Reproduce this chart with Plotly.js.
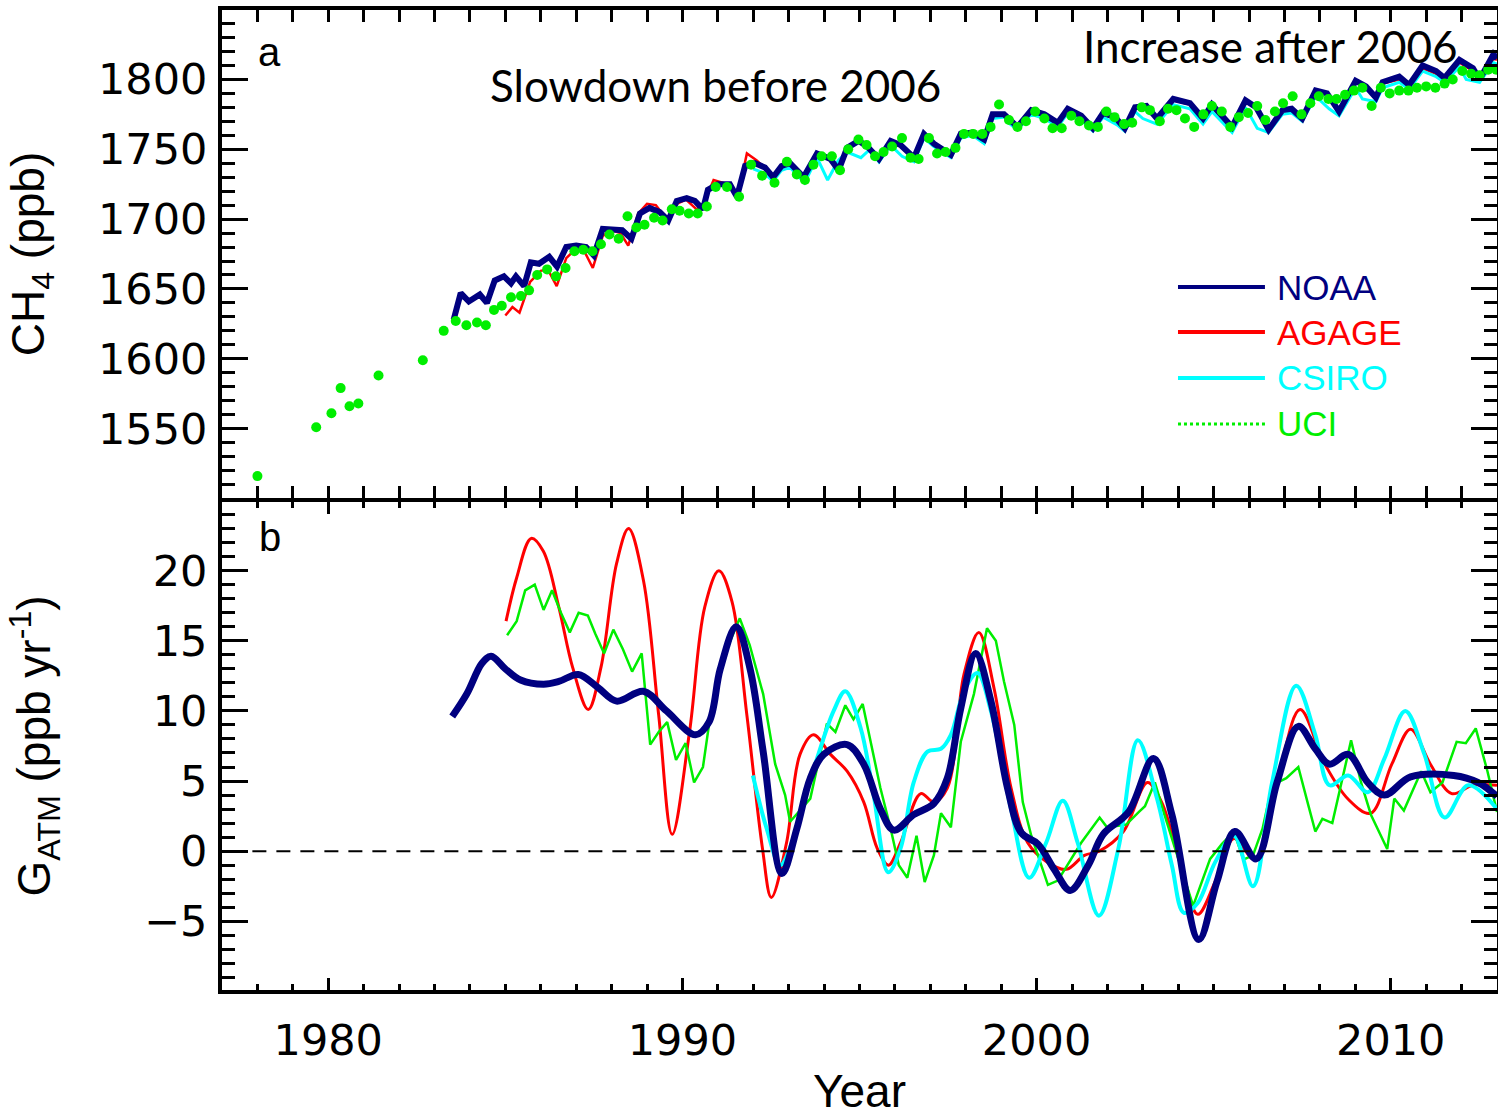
<!DOCTYPE html>
<html>
<head>
<meta charset="utf-8">
<script src="https://cdn.plot.ly/plotly-3.0.1.min.js"></script>
<style>html,body{margin:0;padding:0;background:#fff;}#chart{width:1498px;height:1117px;}</style>
</head>
<body>
<div id="chart"></div>
<script>
// ---------- Panel a: CH4 mole fraction (ppb) ----------
var noaaTopYear = [1983.54,1983.74,1983.97,1984.28,1984.48,1984.7,1984.96,1985.16,1985.3,1985.53,1985.72,1985.95,1986.24,1986.46,1986.72,1987.0,1987.28,1987.5,1987.75,1988.02,1988.3,1988.56,1988.8,1989.07,1989.36,1989.6,1989.84,1990.12,1990.35,1990.58,1990.72,1991.0,1991.34,1991.54,1991.77,1992.05,1992.33,1992.56,1992.8,1993.04,1993.42,1993.8,1994.18,1994.41,1994.65,1994.98,1995.22,1995.55,1995.88,1996.16,1996.54,1996.82,1997.1,1997.58,1997.86,1998.19,1998.52,1998.76,1999.08,1999.46,1999.85,2000.22,2000.6,2000.88,2001.26,2001.59,2001.88,2002.21,2002.49,2002.78,2003.1,2003.4,2003.86,2004.33,2004.7,2004.95,2005.52,2005.9,2006.2,2006.55,2006.94,2007.2,2007.5,2007.88,2008.2,2008.54,2009.01,2009.3,2009.58,2009.77,2010.24,2010.52,2010.9,2011.28,2011.52,2011.94,2012.32,2012.51,2012.9,2013.0];
var noaaTopCH4 = [1628,1647,1641,1646,1640,1656,1659,1654,1659,1652,1669,1668,1673,1666,1680,1681,1680,1674,1693,1693,1692,1686,1704,1708,1705,1699,1713,1715,1713,1707,1721,1725,1725,1716,1738,1740,1737,1730,1738,1740,1730,1747,1743,1735,1751,1756,1752,1743,1756,1753,1744,1761,1754,1746,1761,1762,1757,1775,1775,1766,1778,1775,1769,1779,1774,1765,1776,1773,1765,1780,1781,1772,1786,1783,1772,1782,1766,1785,1780,1764,1778,1779,1772,1792,1790,1777,1799,1795,1787,1798,1802,1796,1810,1806,1801,1814,1808,1800,1818,1815];

var agageTopYear = [1985.0,1985.2,1985.4,1985.7,1986.0,1986.2,1986.45,1986.72,1987.0,1987.25,1987.47,1987.75,1988.0,1988.25,1988.47,1988.75,1989.0,1989.25,1989.55,1989.84,1990.1,1990.4,1990.62,1990.88,1991.15,1991.4,1991.57,1991.82,1992.1,1992.35,1992.58,1992.82,1993.05,1993.42,1993.8,1994.18,1994.42,1994.66,1994.98,1995.22,1995.55,1995.88,1996.16,1996.54,1996.82,1997.1,1997.58,1997.86,1998.19,1998.52,1998.76,1999.08,1999.46,1999.85,2000.22,2000.6,2000.88,2001.26,2001.59,2001.88,2002.21,2002.49,2002.78,2003.1,2003.4,2003.86,2004.33,2004.7,2004.95,2005.52,2005.9,2006.2,2006.55,2006.94,2007.2,2007.5,2007.88,2008.2,2008.54,2009.01,2009.3,2009.58,2009.77,2010.24,2010.52,2010.9,2011.28,2011.52,2011.94,2012.32,2012.51,2012.9,2013.0];
var agageTopCH4 = [1631,1637,1633,1655,1663,1664,1652,1672,1679,1676,1665,1688,1692,1690,1681,1704,1711,1710,1700,1711,1714,1707,1712,1728,1726,1721,1717,1747,1742,1736,1729,1738,1739,1729,1746,1743,1734,1750,1755,1751,1742,1755,1752,1743,1760,1754,1745,1760,1762,1756,1774,1775,1765,1777,1774,1768,1778,1773,1764,1775,1772,1764,1779,1780,1771,1785,1782,1771,1780,1765,1784,1779,1763,1777,1778,1771,1791,1789,1776,1798,1794,1786,1797,1800,1795,1808,1804,1800,1812,1806,1799,1815,1814];

var csiroTopYear = [1992.0,1992.3,1992.56,1992.8,1993.04,1993.45,1993.8,1994.1,1994.4,1994.65,1995.04,1995.3,1995.55,1995.88,1996.2,1996.54,1996.82,1997.1,1997.58,1997.86,1998.19,1998.52,1998.76,1999.1,1999.2,1999.46,1999.85,2000.22,2000.6,2000.88,2001.26,2001.59,2001.88,2002.3,2002.49,2002.78,2003.0,2003.4,2003.86,2004.33,2004.7,2004.95,2005.52,2005.9,2006.23,2006.55,2006.94,2007.2,2007.5,2007.88,2008.26,2008.54,2009.01,2009.2,2009.58,2009.77,2010.24,2010.52,2010.9,2011.28,2011.52,2011.94,2012.13,2012.51,2012.9,2013.0];
var csiroTopCH4 = [1736,1733,1727,1735,1737,1726,1744,1728,1742,1748,1744,1750,1741,1753,1745,1741,1758,1752,1744,1758,1760,1754,1772,1773,1769,1764,1775,1772,1766,1776,1771,1763,1773,1767,1763,1777,1772,1768,1782,1779,1768,1777,1762,1780,1765,1762,1775,1776,1770,1788,1779,1774,1794,1786,1784,1794,1798,1793,1806,1802,1798,1809,1800,1798,1812,1811];

var uciTopYear = [1978.0,1979.66,1980.09,1980.35,1980.6,1980.85,1981.42,1982.67,1983.26,1983.6,1983.9,1984.2,1984.45,1984.68,1984.9,1985.16,1985.44,1985.67,1985.9,1986.18,1986.43,1986.7,1986.95,1987.2,1987.46,1987.7,1987.94,1988.2,1988.45,1988.7,1988.93,1989.2,1989.44,1989.7,1989.92,1990.18,1990.43,1990.69,1990.94,1991.26,1991.6,1991.94,1992.25,1992.6,1992.95,1993.23,1993.46,1993.7,1993.93,1994.22,1994.45,1994.68,1994.97,1995.2,1995.44,1995.68,1995.92,1996.2,1996.44,1996.67,1996.96,1997.19,1997.43,1997.71,1997.95,1998.21,1998.47,1998.7,1998.94,1999.22,1999.46,1999.7,1999.96,2000.22,2000.45,2000.71,2000.98,2001.21,2001.48,2001.73,2001.97,2002.2,2002.47,2002.7,2002.97,2003.2,2003.48,2003.71,2003.95,2004.19,2004.45,2004.71,2004.95,2005.23,2005.47,2005.71,2005.97,2006.23,2006.46,2006.73,2006.96,2007.23,2007.48,2007.73,2007.97,2008.24,2008.47,2008.71,2008.96,2009.2,2009.46,2009.72,2009.97,2010.24,2010.5,2010.74,2011.0,2011.26,2011.52,2011.75,2012.02,2012.27,2012.51,2012.75,2012.98];
var uciTopCH4 = [1516,1551,1561,1579,1566,1568,1588,1599,1620,1627,1624,1626,1624,1635,1638,1644,1645,1649,1660,1664,1659,1665,1677,1678,1677,1682,1689,1686,1702,1694,1696,1701,1699,1707,1706,1704,1704,1709,1723,1723,1716,1739,1731,1726,1741,1732,1728,1739,1745,1745,1735,1750,1757,1753,1745,1748,1752,1758,1744,1743,1758,1747,1748,1751,1761,1761,1761,1766,1782,1771,1766,1770,1777,1772,1765,1765,1774,1770,1767,1766,1777,1773,1768,1769,1780,1778,1770,1779,1778,1772,1766,1775,1781,1777,1766,1773,1776,1781,1771,1777,1783,1788,1775,1783,1788,1786,1786,1789,1792,1794,1781,1794,1790,1792,1792,1794,1795,1794,1797,1800,1806,1804,1803,1807,1807];

// ---------- Panel b: growth rate G_ATM (ppb/yr) ----------
var noaaGrYear = [1983.5,1983.91,1984.34,1984.6,1985.0,1985.43,1986.08,1986.51,1987.06,1987.6,1988.14,1988.9,1989.55,1990.37,1990.75,1991.07,1991.52,1991.91,1992.28,1992.81,1993.23,1993.61,1993.99,1994.65,1995.12,1995.59,1995.97,1996.53,1997.1,1997.48,1997.86,1998.28,1998.71,1999.18,1999.57,2000.04,2000.5,2000.95,2001.46,2001.88,2002.6,2003.3,2003.82,2004.58,2005.09,2005.6,2006.2,2006.79,2007.39,2007.87,2008.27,2008.8,2009.35,2009.82,2010.56,2011.78,2012.46,2013.0];
var noaaGr = [9.6,11.2,13.4,13.9,13.0,12.2,11.9,12.1,12.6,11.7,10.7,11.4,10.0,8.3,9.2,13.0,16.0,13.0,7.1,-1.6,1.6,5.2,6.9,7.6,6.2,3.0,1.5,2.6,3.4,5.2,10.2,14.1,10.7,4.5,1.3,0.5,-1.3,-2.8,-1.0,1.2,2.8,6.6,2.6,-6.3,-2.2,1.4,-0.55,4.9,8.9,7.3,6.2,6.9,4.9,4.0,5.3,5.4,4.9,3.9];

var agageGrYear = [1985.02,1985.32,1985.73,1986.07,1986.51,1986.9,1987.34,1987.7,1988.14,1988.48,1988.9,1989.33,1989.71,1990.2,1990.63,1991.03,1991.4,1991.82,1992.26,1992.51,1992.94,1993.32,1993.7,1994.18,1994.65,1995.12,1995.5,1995.82,1996.16,1996.73,1997.1,1997.48,1997.95,1998.37,1998.8,1999.28,1999.75,2000.31,2000.84,2001.35,2001.77,2002.45,2003.13,2003.53,2004.07,2004.55,2005.04,2005.57,2006.17,2006.79,2007.44,2008.14,2008.8,2009.43,2010.03,2010.56,2011.12,2011.72,2012.32,2013.0];
var agageGr = [16.4,19.5,22.3,21.4,17.4,13.1,10.1,13.1,20.5,23.0,19.3,9.7,1.2,8.5,17.4,20.0,17.8,9.7,0.2,-3.3,0.6,6.9,8.3,6.9,5.7,3.5,0.2,-1.0,0.6,4.1,3.5,4.5,12.6,15.6,11.6,4.5,0.6,-0.8,-1.3,-0.3,0.0,1.4,4.9,3.5,-1.0,-4.5,-2.2,0.9,-0.6,4.9,10.1,6.2,3.7,2.7,6.2,8.7,6.2,4.1,4.7,4.7];

var csiroGrYear = [1991.99,1992.38,1992.76,1993.09,1993.42,1993.8,1994.27,1994.6,1995.03,1995.4,1995.81,1996.16,1996.53,1996.92,1997.3,1997.58,1997.95,1998.33,1998.71,1999.28,1999.79,2000.27,2000.74,2001.16,2001.76,2002.31,2002.86,2003.4,2003.82,2004.16,2004.55,2005.04,2005.57,2006.11,2006.65,2007.33,2007.87,2008.27,2008.8,2009.35,2009.82,2010.41,2010.95,2011.52,2012.19,2013.0];
var csiroGr = [5.4,1.6,-1.0,0.6,3.5,6.6,10.0,11.4,8.8,4.0,-1.5,0.2,4.9,7.1,7.3,8.3,11.4,12.7,10.0,3.0,-1.9,0.6,3.6,0.6,-4.6,0.2,7.9,3.75,-1.0,-4.4,-3.7,-0.8,1.1,-2.5,4.9,11.8,8.3,4.7,5.4,4.2,6.6,10.0,6.9,2.4,4.7,3.0];

var uciGrYear = [1985.05,1985.32,1985.56,1985.83,1986.08,1986.32,1986.57,1986.82,1987.07,1987.33,1987.54,1987.79,1988.05,1988.32,1988.58,1988.85,1989.09,1989.33,1989.57,1989.82,1990.09,1990.33,1990.58,1990.75,1991.1,1991.62,1991.9,1992.28,1992.62,1992.9,1993.04,1993.61,1994.08,1994.32,1994.6,1994.83,1995.09,1995.31,1995.59,1995.88,1996.11,1996.35,1996.61,1996.84,1997.1,1997.3,1997.58,1997.86,1998.23,1998.6,1998.85,1999.08,1999.37,1999.61,1999.85,2000.32,2000.6,2001.26,2001.55,2001.78,2001.99,2002.53,2002.89,2003.06,2003.34,2003.61,2004.42,2004.9,2005.23,2005.57,2005.84,2006.11,2006.38,2006.65,2007.05,2007.39,2007.67,2007.87,2008.07,2008.35,2008.88,2009.16,2009.44,2009.9,2010.1,2010.37,2010.86,2011.12,2011.46,2011.86,2012.12,2012.4,2012.73,2013.0];
var uciGr = [15.4,16.4,18.6,19.0,17.2,18.6,17.0,15.6,17.0,16.8,15.5,14.1,15.8,14.4,12.8,14.1,7.6,8.5,9.2,6.5,7.7,4.9,6.0,9.0,13.5,16.6,14.7,11.2,6.2,4.0,2.1,3.75,9.1,8.5,10.4,9.4,10.5,7.8,4.5,1.6,-1.0,-1.9,1.1,-2.2,-0.3,2.7,1.7,7.8,11.2,15.9,15.0,12.1,9.0,3.5,1.1,-2.4,-2.1,0.6,1.6,2.4,1.7,1.9,2.8,3.2,4.9,2.6,-3.9,-0.55,0.5,1.4,-0.6,-0.3,1.6,4.7,5.2,6.0,3.3,1.4,2.3,2.0,7.9,4.9,2.6,0.15,3.75,2.9,5.7,4.2,4.9,7.8,7.7,8.75,5.7,2.8];

// ---------- Labels / legend ----------
var seriesNames = ['NOAA','AGAGE','CSIRO','UCI'];
var seriesColors = ['#000080','#ff0000','#00ffff','#00ee00'];
var panelNotes = ['Slowdown before 2006','Increase after 2006'];

var C = {noaa:seriesColors[0], agage:seriesColors[1], csiro:seriesColors[2], uci:seriesColors[3]};

var traces = [
  {x:agageTopYear, y:agageTopCH4, xaxis:'x', yaxis:'y', mode:'lines', line:{color:C.agage, width:2.5}, name:'AGAGE'},
  {x:csiroTopYear, y:csiroTopCH4, xaxis:'x', yaxis:'y', mode:'lines', line:{color:C.csiro, width:3}, name:'CSIRO'},
  {x:noaaTopYear, y:noaaTopCH4, xaxis:'x', yaxis:'y', mode:'lines', line:{color:C.noaa, width:6}, name:'NOAA'},
  {x:uciTopYear, y:uciTopCH4, xaxis:'x', yaxis:'y', mode:'markers', marker:{color:C.uci, size:10}, name:'UCI'},
  {x:agageGrYear, y:agageGr, xaxis:'x2', yaxis:'y2', mode:'lines', line:{color:C.agage, width:3, shape:'spline', smoothing:1}, name:'AGAGE'},
  {x:uciGrYear, y:uciGr, xaxis:'x2', yaxis:'y2', mode:'lines', line:{color:C.uci, width:2.5}, name:'UCI'},
  {x:csiroGrYear, y:csiroGr, xaxis:'x2', yaxis:'y2', mode:'lines', line:{color:C.csiro, width:4, shape:'spline', smoothing:1}, name:'CSIRO'},
  {x:noaaGrYear, y:noaaGr, xaxis:'x2', yaxis:'y2', mode:'lines', line:{color:C.noaa, width:7, shape:'spline', smoothing:1}, name:'NOAA'}
];

var tickFont = {family:'DejaVu Sans', size:43, color:'#000'};
var titleFont = {family:'Liberation Sans', size:46, color:'#000'};

function baseAxis(extra){
  var a = {showline:true, linewidth:4, linecolor:'#000', mirror:'allticks', ticks:'inside',
    tickwidth:3, tickcolor:'#000', showgrid:false, zeroline:false, tickfont:tickFont};
  for (var k in extra) a[k] = extra[k];
  return a;
}

// legend built from series names/colours
var shapes = [
  {type:'line', xref:'paper', yref:'y2', x0:0.005, x1:0.995, y0:0, y1:0, line:{color:'#000', width:2, dash:'14px,10px'}}
];
var annotations = [
  {text:'a', xref:'paper', yref:'paper', x:0.0376, y:0.957, xanchor:'center', yanchor:'middle', showarrow:false, font:{family:'Liberation Sans', size:40, color:'#000'}},
  {text:'b', xref:'paper', yref:'paper', x:0.0376, y:0.4622, xanchor:'center', yanchor:'middle', showarrow:false, font:{family:'Liberation Sans', size:40, color:'#000'}},
  {text:panelNotes[0], xref:'paper', yref:'paper', x:0.3867, y:0.9235, xanchor:'center', yanchor:'middle', showarrow:false, font:{family:'Lato', size:44, color:'#000'}},
  {text:panelNotes[1], xref:'paper', yref:'paper', x:0.822, y:0.9633, xanchor:'center', yanchor:'middle', showarrow:false, font:{family:'Lato', size:44, color:'#000'}}
];
var legY = [0.7173, 0.6714, 0.6245, 0.5776];
for (var i = 0; i < seriesNames.length; i++) {
  shapes.push({type:'line', xref:'paper', yref:'paper', x0:0.7498, x1:0.818, y0:legY[i], y1:legY[i],
    line:{color:seriesColors[i], width:i===3 ? 3 : 4, dash:i===3 ? 'dot' : 'solid'}});
  annotations.push({text:seriesNames[i], xref:'paper', yref:'paper', x:0.8262, y:legY[i], xanchor:'left', yanchor:'middle',
    showarrow:false, font:{family:'Liberation Sans', size:35, color:seriesColors[i]}});
}

var layout = {
  width:1498, height:1117,
  margin:{l:222, r:1, t:10, b:127},
  paper_bgcolor:'#fff', plot_bgcolor:'#fff',
  showlegend:false,
  xaxis: baseAxis({domain:[0,1], anchor:'y', range:[1977,2013], tick0:1980, dtick:10, ticklen:12, showticklabels:false,
    minor:{dtick:1, ticks:'inside', ticklen:12, tickwidth:3, tickcolor:'#000', showgrid:false}}),
  yaxis: baseAxis({domain:[0.502,1], anchor:'x', range:[1500.3,1849.7], tick0:1550, dtick:50, ticklen:26, ticklabelstandoff:2,
    minor:{dtick:10, ticks:'inside', ticklen:13, tickwidth:3, tickcolor:'#000', showgrid:false},
    title:{text:'CH<sub>4</sub> (ppb)', font:titleFont, standoff:40}}),
  xaxis2: baseAxis({domain:[0,1], anchor:'y2', matches:'x', range:[1977,2013], tick0:1980, dtick:10, ticklen:12, ticklabelstandoff:9,
    minor:{dtick:1, ticks:'inside', ticklen:6, tickwidth:3, tickcolor:'#000', showgrid:false},
    title:{text:'Year', font:titleFont, standoff:39}}),
  yaxis2: baseAxis({domain:[0,0.498], anchor:'x2', range:[-9.9,24.9], tick0:0, dtick:5, ticklen:26, ticklabelstandoff:2,
    minor:{dtick:1, ticks:'inside', ticklen:13, tickwidth:3, tickcolor:'#000', showgrid:false},
    title:{text:'G<sub>ATM</sub> (ppb yr<sup>-1</sup>)', font:titleFont, standoff:80}}),
  shapes:shapes,
  annotations:annotations
};

Plotly.newPlot('chart', traces, layout, {displayModeBar:false, staticPlot:true});
</script>
</body>
</html>
